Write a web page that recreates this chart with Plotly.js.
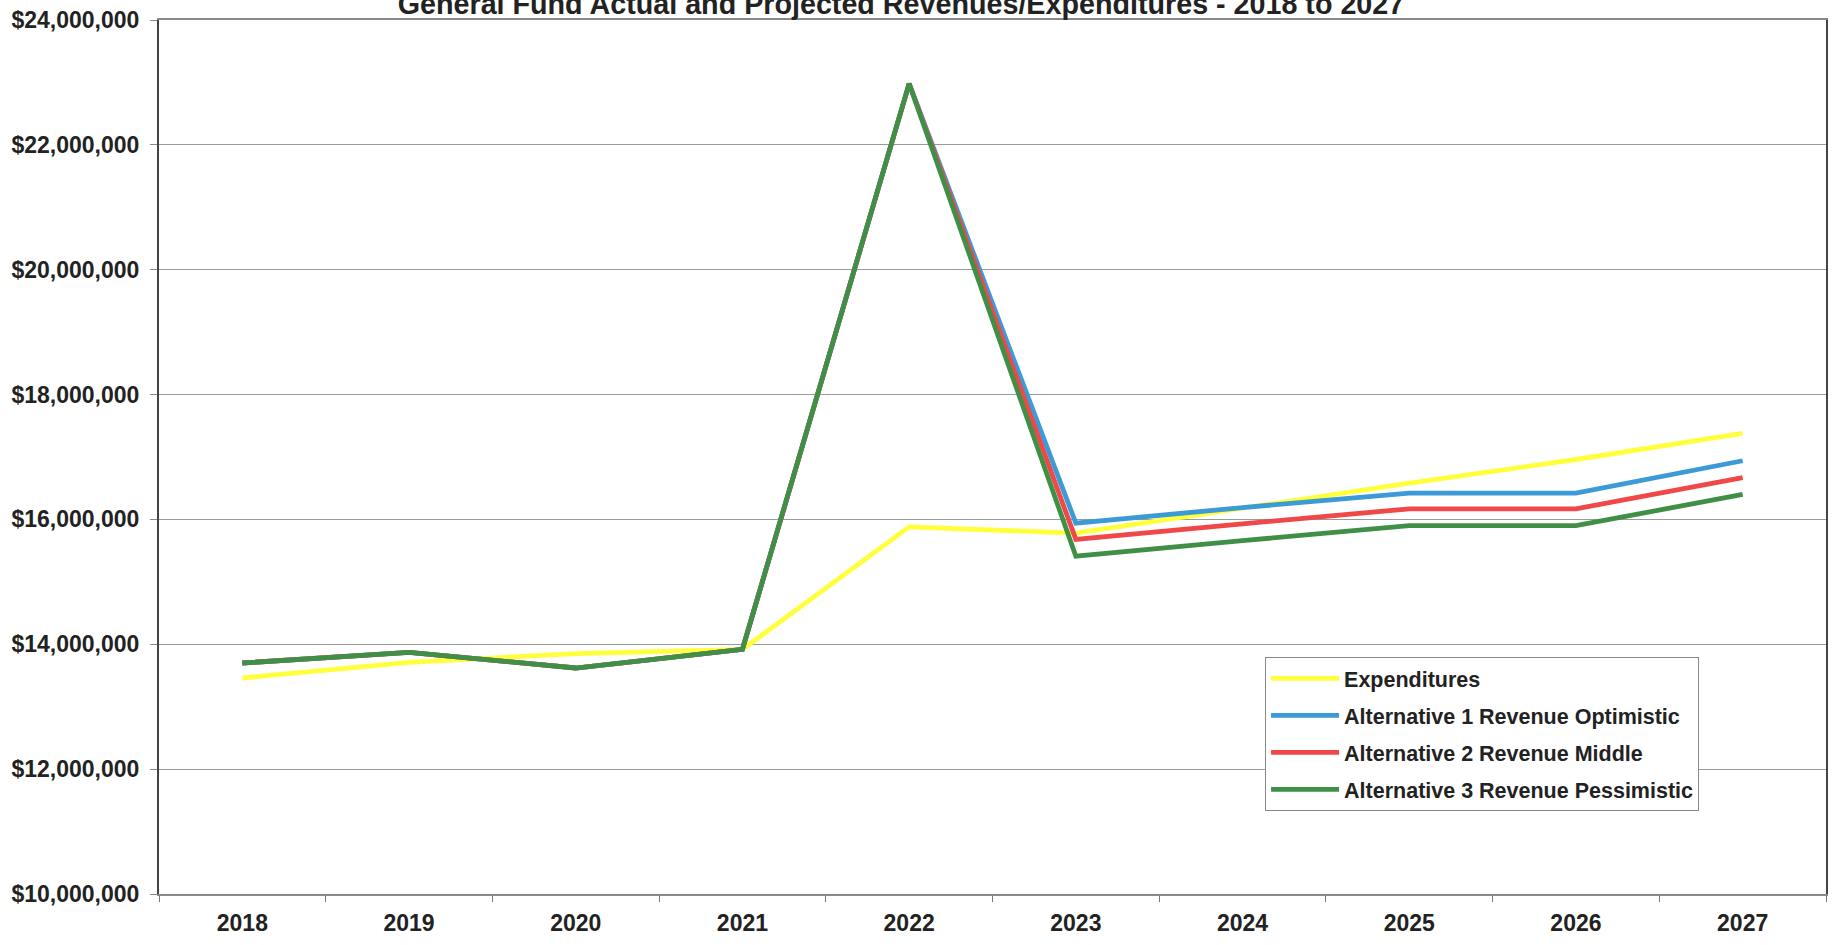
<!DOCTYPE html>
<html>
<head>
<meta charset="utf-8">
<script src="https://cdn.plot.ly/plotly-3.0.1.min.js"></script>
<style>
  html, body { margin: 0; padding: 0; background: #ffffff; }
  #chart { width: 1835px; height: 945px; }
</style>
</head>
<body>
<div id="chart"></div>
<script>
const years = ['2018', '2019', '2020', '2021', '2022', '2023', '2024', '2025', '2026', '2027'];
const expenditures = [13460000, 13710000, 13850000, 13920000, 15880000, 15780000, 16180000, 16580000, 16960000, 17380000];
const alt1Optimistic = [13700000, 13870000, 13620000, 13920000, 22980000, 15940000, 16190000, 16420000, 16420000, 16940000];
const alt2Middle = [13700000, 13870000, 13620000, 13920000, 22980000, 15680000, 15930000, 16170000, 16170000, 16670000];
const alt3Pessimistic = [13700000, 13870000, 13620000, 13920000, 22980000, 15410000, 15660000, 15900000, 15900000, 16400000];
const seriesNames = ['Expenditures', 'Alternative 1 Revenue Optimistic', 'Alternative 2 Revenue Middle', 'Alternative 3 Revenue Pessimistic'];
const seriesColors = ['#FFFF3C', '#3C9AD6', '#F04848', '#3F8F47'];
const titleText = 'General Fund Actual and Projected Revenues/Expenditures - 2018 to 2027';

const FONT = '"Liberation Sans", Arial, sans-serif';
const seriesValues = [expenditures, alt1Optimistic, alt2Middle, alt3Pessimistic];

const traces = seriesValues.map((vals, i) => ({
  type: 'scatter',
  mode: 'lines',
  x: years,
  y: vals,
  name: seriesNames[i],
  legendgroup: 'g' + i,
  line: { color: seriesColors[i], width: 4.8 },
  hoverinfo: 'x+y+name'
}));

const layout = {
  width: 1835,
  height: 945,
  paper_bgcolor: '#ffffff',
  plot_bgcolor: '#ffffff',
  margin: { l: 159, r: 9, t: 20, b: 51, pad: 0 },
  showlegend: true,
  title: {
    text: '<b>' + titleText + '</b>',
    font: { family: FONT, size: 28.7, color: '#222222' },
    x: 0.491,
    xref: 'container',
    xanchor: 'center',
    yref: 'container',
    y: 0.9958,
    yanchor: 'middle',
    automargin: false
  },
  xaxis: {
    type: 'category',
    range: [-0.5, 9.5],
    tickson: 'boundaries',
    ticks: 'outside',
    ticklen: 6,
    tickwidth: 1,
    tickcolor: '#777777',
    showline: true,
    linecolor: '#888888',
    linewidth: 2,
    mirror: true,
    showgrid: false,
    ticklabelstandoff: 7,
    tickfont: { family: FONT, size: 23, color: '#222222', weight: 'bold' },
    fixedrange: true
  },
  yaxis: {
    range: [10000000, 24000000],
    dtick: 2000000,
    tick0: 10000000,
    tickformat: '$,.0f',
    ticks: 'outside',
    ticklen: 7,
    tickwidth: 1,
    tickcolor: '#888888',
    showline: true,
    linecolor: '#444444',
    linewidth: 2,
    mirror: true,
    showgrid: true,
    gridcolor: '#9a9a9a',
    gridwidth: 1,
    zeroline: false,
    ticklabelstandoff: 6,
    tickfont: { family: FONT, size: 23, color: '#222222', weight: 'bold' },
    fixedrange: true
  },
  legend: {
    x: 0.6635,
    y: 0.2712,
    xanchor: 'left',
    yanchor: 'top',
    bgcolor: '#ffffff',
    bordercolor: '#888888',
    borderwidth: 1,
    traceorder: 'grouped',
    tracegroupgap: 6,
    itemwidth: 68,
    font: { family: FONT, size: 21.5, color: '#222222', weight: 'bold' }
  }
};

Plotly.newPlot('chart', traces, layout, { displayModeBar: false, staticPlot: false });
</script>
</body>
</html>
